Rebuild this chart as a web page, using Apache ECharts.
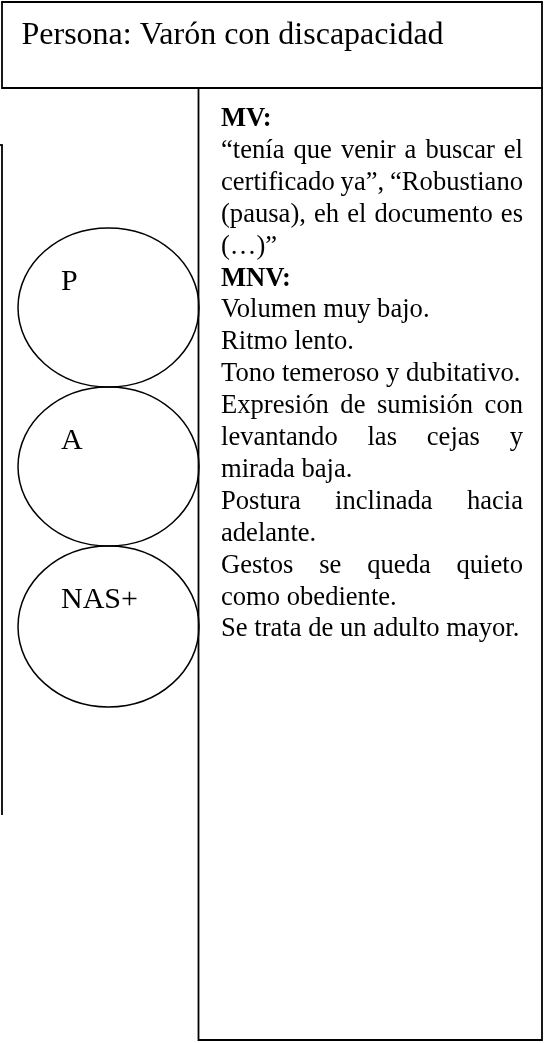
<!DOCTYPE html>
<html><head><meta charset="utf-8">
<script src="https://cdn.jsdelivr.net/npm/echarts@6/dist/echarts.min.js"></script>
<style>html,body{margin:0;padding:0;background:#fff}#c{width:545px;height:1043px}</style>
</head><body><div id="c"></div>
<script>
// ---- content ----
const title = 'Persona: Varón con discapacidad';
const circleLabels = ['P', 'A', 'NAS+'];
const mvHeading = 'MV:';
const mvLines = ['“tenía que venir a buscar el', 'certificado ya”, “Robustiano', '(pausa), eh el documento es', '(…)”'];
const mvJustify = [true, true, true, false];
const mnvHeading = 'MNV:';
const mnvLines = ['Volumen muy bajo.', 'Ritmo lento.', 'Tono temeroso y dubitativo.', 'Expresión de sumisión con',
  'levantando las cejas y', 'mirada baja.', 'Postura inclinada hacia', 'adelante.', 'Gestos se queda quieto',
  'como obediente.', 'Se trata de un adulto mayor.'];
const mnvJustify = [false, false, false, true, true, false, true, false, true, false, false];

// ---- layout ----
const FAMILY = '"Liberation Serif", "Times New Roman", serif';
const INK = '#000';
const cv = document.createElement('canvas').getContext('2d');
function fontStr(size, weight) { return (weight || 'normal') + ' ' + size + 'px ' + FAMILY; }
function measure(t, size, weight) { cv.font = fontStr(size, weight); return cv.measureText(t).width; }
function baseOff(size, weight) {
  cv.font = fontStr(size, weight); cv.textBaseline = 'middle';
  const m = cv.measureText('H'); cv.textBaseline = 'alphabetic';
  return (m.actualBoundingBoxDescent !== undefined) ? m.actualBoundingBoxDescent : size * 0.3;
}
function textEl(t, x, baseline, size, weight) {
  return { type: 'text', x: x, y: baseline - baseOff(size, weight), silent: true,
    style: { text: t, font: fontStr(size, weight), fill: INK, align: 'left', verticalAlign: 'middle' } };
}

const els = [];
// boxes
els.push({ type: 'rect', shape: { x: 2, y: 2, width: 540, height: 86 }, style: { fill: 'none', stroke: INK, lineWidth: 1.8 } });
els.push({ type: 'rect', shape: { x: 198.5, y: 88, width: 343.5, height: 952 }, style: { fill: 'none', stroke: INK, lineWidth: 1.8 } });
els.push({ type: 'line', shape: { x1: 2, y1: 145, x2: 2, y2: 815 }, style: { stroke: INK, lineWidth: 1.8 } });
els.push({ type: 'line', shape: { x1: 0, y1: 145, x2: 2.9, y2: 145 }, style: { stroke: INK, lineWidth: 1.8 } });

// title
els.push(textEl(title, 21.5, 44, 32));

// ellipses
const ellTops = [228, 387, 546];
const ellH = [159, 159, 161];
circleLabels.forEach((lab, i) => {
  els.push({ type: 'ellipse', shape: { cx: 108.5, cy: ellTops[i] + ellH[i] / 2, rx: 90.5, ry: ellH[i] / 2 },
    style: { fill: 'none', stroke: INK, lineWidth: 1.5 } });
  els.push(textEl(lab, 61, ellTops[i] + 62, 30));
});

// right column text
const BODY = 26.6, X0 = 221, X1 = 523, TOP = 126, PITCH = 31.9;
const lines = [];
lines.push({ t: mvHeading, b: true, j: false });
mvLines.forEach((t, i) => lines.push({ t, b: false, j: mvJustify[i] }));
lines.push({ t: mnvHeading, b: true, j: false });
mnvLines.forEach((t, i) => lines.push({ t, b: false, j: mnvJustify[i] }));

lines.forEach((ln, i) => {
  const base = TOP + i * PITCH;
  const w = ln.b ? 'bold' : 'normal';
  if (!ln.j) { els.push(textEl(ln.t, X0, base, BODY, w)); return; }
  const words = ln.t.split(' ');
  const widths = words.map(s => measure(s, BODY, w));
  const sum = widths.reduce((a, b) => a + b, 0);
  const gap = (X1 - X0 - sum) / (words.length - 1);
  let x = X0;
  words.forEach((s, k) => { els.push(textEl(s, x, base, BODY, w)); x += widths[k] + gap; });
});

const chart = echarts.init(document.getElementById('c'), null, { renderer: 'canvas' });
chart.setOption({ backgroundColor: '#fff', animation: false, graphic: { elements: els } });
</script></body></html>
